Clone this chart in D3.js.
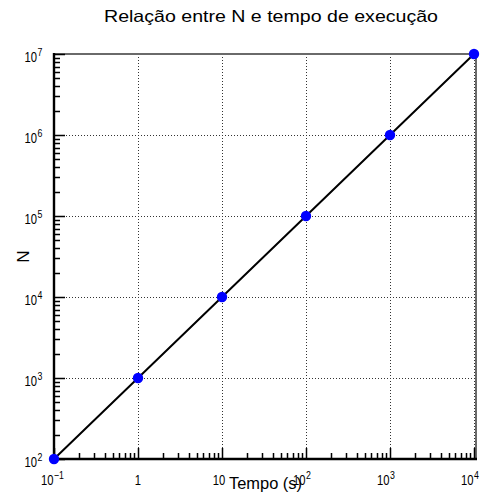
<!DOCTYPE html>
<html>
<head>
<meta charset="utf-8">
<script src="https://cdn.jsdelivr.net/npm/d3@7"></script>
<style>
  html, body { margin: 0; padding: 0; background: #fff; }
  svg { display: block; font-family: "Liberation Sans", Arial, Helvetica, sans-serif; }
</style>
</head>
<body>
<svg id="chart" width="492" height="502"></svg>
<script>
// Measured execution time (s) against problem size N
const tempo = [0.1, 1, 10, 100, 1000, 10000];
const nValues = [1e2, 1e3, 1e4, 1e5, 1e6, 1e7];

// Decade tick labels: base text and exponent (empty = none)
const xTickValues = [0.1, 1, 10, 100, 1000, 10000];
const xTickBase = ["10", "1", "10", "10", "10", "10"];
const xTickExp = ["\u22121", "", "", "2", "3", "4"];
const yTickValues = [1e2, 1e3, 1e4, 1e5, 1e6, 1e7];
const yTickBase = ["10", "10", "10", "10", "10", "10"];
const yTickExp = ["2", "3", "4", "5", "6", "7"];

const titleText = "Relação entre N e tempo de execução";
const xTitle = "Tempo (s)";
const yTitle = "N";

const svg = d3.select("#chart");
const box = { left: 54, right: 474, top: 54, bottom: 459 };

const x = d3.scaleLog().domain([0.1, 1e4]).range([box.left, box.right]);
const y = d3.scaleLog().domain([1e2, 1e7]).range([box.bottom, box.top]);

// minor ticks: 2..9 in each decade
function minorTicks(scale) {
  const [a, b] = scale.domain();
  const out = [];
  for (let e = Math.round(Math.log10(a)); e < Math.round(Math.log10(b)); e++) {
    for (let k = 2; k <= 9; k++) out.push(k * Math.pow(10, e));
  }
  return out;
}

// grid (dotted) at major decades
const grid = svg.append("g").attr("stroke", "#333").attr("stroke-width", 1)
  .attr("stroke-dasharray", "1,2").attr("fill", "none");
grid.selectAll("line.gx").data(xTickValues).join("line")
  .attr("class", "gx")
  .attr("x1", d => Math.round(x(d)) + 0.5).attr("x2", d => Math.round(x(d)) + 0.5)
  .attr("y1", box.top).attr("y2", box.bottom);
grid.selectAll("line.gy").data(yTickValues).join("line")
  .attr("class", "gy")
  .attr("y1", d => Math.round(y(d)) + 0.5).attr("y2", d => Math.round(y(d)) + 0.5)
  .attr("x1", box.left).attr("x2", box.right);

// frame border on top and right
const border = svg.append("g").attr("fill", "#6a6a6a");
border.append("rect").attr("x", box.left).attr("y", box.top - 1)
  .attr("width", box.right - box.left + 3).attr("height", 2);
border.append("rect").attr("x", box.right + 1).attr("y", box.top - 1)
  .attr("width", 2).attr("height", box.bottom - box.top + 1);

// tick labels: base and raised exponent, horizontally narrowed
const squeeze = 0.75;
const digitW = 15 * 0.556 * squeeze;
function tickLabel(x0, yBase, base, exp) {
  svg.append("text")
    .attr("transform", `translate(${x0},${yBase}) scale(${squeeze},1)`)
    .attr("font-size", 15)
    .text(base);
  if (exp) {
    svg.append("text")
      .attr("transform", `translate(${x0 + base.length * digitW + 0.4},${yBase - 6}) scale(0.8,1)`)
      .attr("font-size", 11)
      .text(exp);
  }
}

xTickValues.forEach((v, i) => {
  const base = xTickBase[i], exp = xTickExp[i];
  const x0 = exp ? x(v) - 13 : x(v) - base.length * digitW / 2 - (base.length - 1) * 3;
  tickLabel(x0, 484.5, base, exp);
});

yTickValues.forEach((v, i) => {
  tickLabel(24.5, y(v) + 8, yTickBase[i], yTickExp[i]);
});

// titles
svg.append("text")
  .attr("x", 104).attr("y", 22)
  .attr("font-size", 16.5)
  .attr("textLength", 334).attr("lengthAdjust", "spacingAndGlyphs")
  .text(titleText);

svg.append("text")
  .attr("x", 229).attr("y", 488.5)
  .attr("font-size", 16.5)
  .attr("textLength", 73).attr("lengthAdjust", "spacingAndGlyphs")
  .text(xTitle);

svg.append("text")
  .attr("transform", "translate(29.3,256.5) rotate(-90)")
  .attr("text-anchor", "middle")
  .attr("font-size", 17)
  .text(yTitle);

// axis lines and inward ticks
const axes = svg.append("g").attr("stroke", "#000").attr("fill", "none");
axes.append("path")
  .attr("d", `M${box.left},${box.top - 1}V${box.bottom}H${box.right + 3}`)
  .attr("stroke-width", 2.4);

const tickPath = [];
xTickValues.forEach(v => tickPath.push(`M${Math.round(x(v)) + 0.5},${box.bottom}v-11`));
minorTicks(x).forEach(v => tickPath.push(`M${Math.round(x(v)) + 0.5},${box.bottom}v-6`));
yTickValues.forEach(v => tickPath.push(`M${box.left},${Math.round(y(v)) + 0.5}h11`));
minorTicks(y).forEach(v => tickPath.push(`M${box.left},${Math.round(y(v)) + 0.5}h6`));
axes.append("path").attr("d", tickPath.join("")).attr("stroke-width", 1.5);

// data line and markers
const line = d3.line().x((d, i) => x(tempo[i])).y(d => y(d));
svg.append("path").datum(nValues)
  .attr("d", line).attr("fill", "none")
  .attr("stroke", "#000").attr("stroke-width", 2);

svg.selectAll("circle.pt").data(nValues).join("circle")
  .attr("class", "pt")
  .attr("cx", (d, i) => x(tempo[i])).attr("cy", d => y(d))
  .attr("r", 5.2).attr("fill", "#0000ff");
</script>
</body>
</html>
